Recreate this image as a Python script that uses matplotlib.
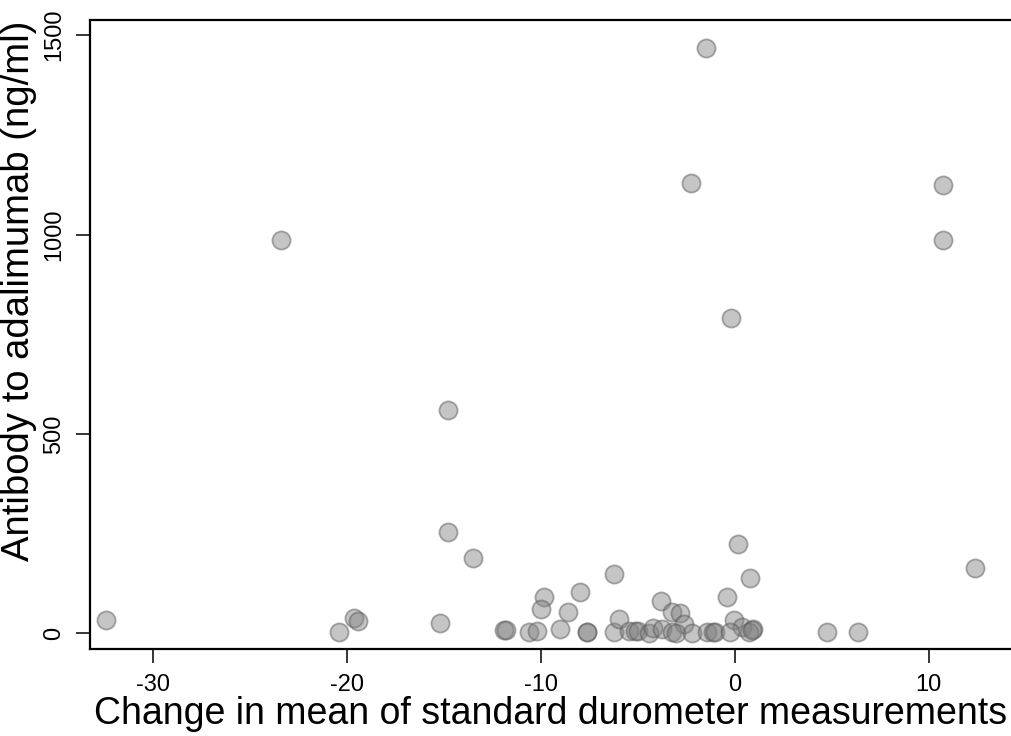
import matplotlib
matplotlib.use("Agg")
import matplotlib.pyplot as plt

plt.rcParams['font.family'] = ['Liberation Sans', 'DejaVu Sans']
plt.rcParams['axes.unicode_minus'] = False

# change in mean durometer (x) vs antibody level (y)
durometer_change = [
    -1.48, -2.25, -23.4, 10.75, 10.75, -0.19, -14.8, -14.8, -13.5, 12.4,
    0.17, 0.8, -6.2, -32.4, -20.4, -19.6, -19.4, -15.2,
    -8.0, -9.83, -10.0, -8.6, -11.9, -11.8, -10.6, -10.2, -9.0, -7.63, -7.63,
    -6.2, -5.95, -0.41, -3.8, -3.25, -2.82, -2.6, -0.02, 0.36, 0.96,
    -5.43, -5.14, -4.97, -4.4, -4.23, -3.76, -3.25, -3.03, -2.2, -1.44,
    -1.1, -1.0, -0.24, 0.75, 0.88, 4.74, 6.37,
]
antibody = [
    1468, 1129, 986, 1123, 986, 790, 559, 254, 189, 164,
    224, 139, 149, 33, 3, 38, 31, 26,
    103, 92, 60, 53, 8, 8, 2, 6, 12, 2, 2,
    2, 35, 92, 82, 54, 52, 23, 33, 17, 12,
    6, 6, 6, 0, 14, 12, 2, 0, 0, 2,
    2, 2, 4, 2, 8, 2, 2,
]

x_ticks = [-30, -20, -10, 0, 10]
y_ticks = [0, 500, 1000, 1500]

W, H = 1012, 736
fig = plt.figure(figsize=(W / 100, H / 100), dpi=100)
ax = fig.add_axes([90 / W, (H - 649) / H, (W - 90) / W, (649 - 20) / H])

ax.scatter(durometer_change, antibody, s=170, facecolor=(0.5, 0.5, 0.5, 0.45),
           edgecolor=(0.35, 0.35, 0.35, 0.5), linewidth=1.3, zorder=3)

ax.set_xlim(-33.23, 14.29)
ax.set_ylim(-39.4, 1538)
ax.set_xticks(x_ticks)
ax.set_yticks(y_ticks)
ax.spines['right'].set_visible(False)
for s in ['left', 'bottom', 'top']:
    ax.spines[s].set_linewidth(1.6)
ax.tick_params(axis='both', length=10, width=1.1, labelsize=17, pad=8)
for lab in ax.get_yticklabels():
    lab.set_rotation(90)
    lab.set_va('center')

ax.set_xlabel('Change in mean of standard durometer measurements', fontsize=27, labelpad=0)
ax.set_ylabel('Antibody to adalimumab (ng/ml)', fontsize=27.5)
ax.yaxis.set_label_coords(-0.058, 0.57)

fig.savefig('out.png', dpi=100)
